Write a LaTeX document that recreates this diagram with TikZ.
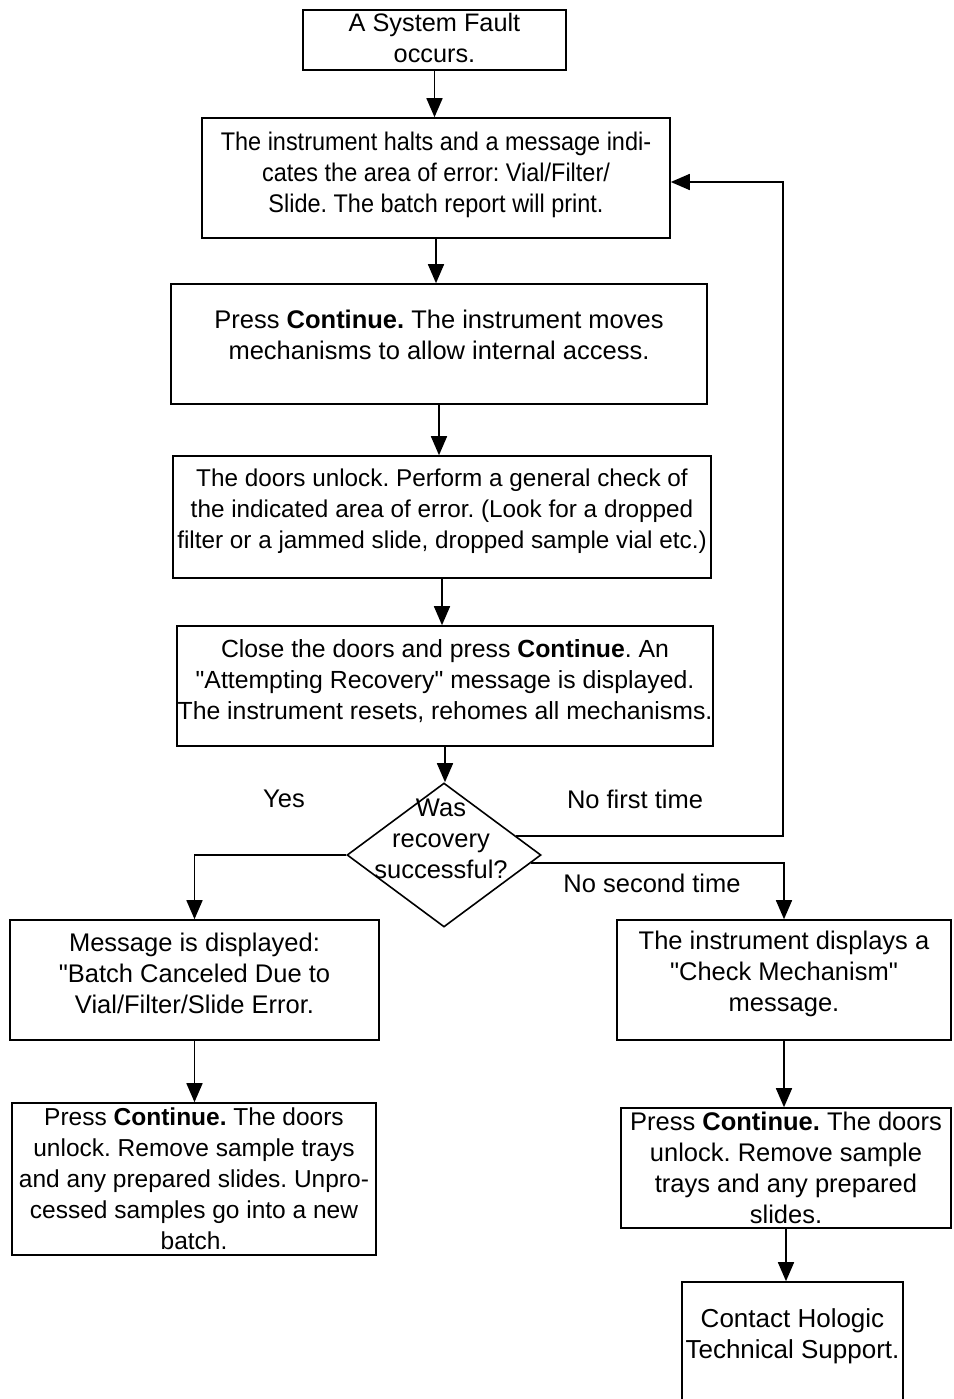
\documentclass[tikz,border=0pt]{standalone}
\usepackage{fontspec}
\setmainfont{Liberation Sans}[Ligatures=TeXOff]
\newfontfamily\narrowfont{Liberation Sans}[Ligatures=TeXOff, FakeStretch=0.92]
\usetikzlibrary{shapes.geometric, positioning, arrows.meta, calc}
\frenchspacing

\begin{document}
\begin{tikzpicture}[
    x=1pt, y=-1pt,
    line width=1.6pt,
    fsize/.style={font=\fontsize{#1}{31}\selectfont},
    block/.style={rectangle, draw, inner sep=0pt, align=center, fsize=25.5},
    decision/.style={diamond, draw, inner sep=0pt, minimum width=194pt, minimum height=144pt},
    tag/.style={fsize=25.5, align=center},
    arrow/.style={-{Triangle[length=19pt, width=16pt]}}
]
    \useasboundingbox (0,0) rectangle (953,1399);
    \clip (0,0) rectangle (953,1399);

    % Main Column
    \node[block, fsize=25.3, text depth=5pt, minimum width=263pt, minimum height=60pt] (fault) at (434.5,40) {A System Fault\\occurs.};
    \node[block, font=\narrowfont\fontsize{25.5}{31}\selectfont, text depth=12pt, minimum width=468pt, minimum height=120pt] (halt) at (436,178) {The instrument halts and a message indi-\\cates the area of error: Vial/Filter/\\Slide. The batch report will print.};
    \node[block, text depth=19pt, minimum width=536pt, minimum height=120pt] (access) at (439,344) {Press \textbf{Continue.} The instrument moves\\mechanisms to allow internal access.};
    \node[block, fsize=24.3, text depth=17pt, minimum width=538pt, minimum height=122pt] (inspect) at (442,517) {The doors unlock. Perform a general check of\\the indicated area of error. (Look for a dropped\\filter or a jammed slide, dropped sample vial etc.)};
    \node[block, fsize=24.8, text depth=12pt, minimum width=536pt, minimum height=120pt] (recover) at (445,686) {Close the doors and press \textbf{Continue}. An\\"Attempting Recovery" message is displayed.\\The instrument resets, rehomes all mechanisms.};

    % Decision
    \node[decision] (dec) at (444,855) {};
    \node[tag] (question) at (441,839) {Was\\recovery\\successful?};
    \node[tag] (yes) at (284,799) {Yes};
    \node[tag] (nofirst) at (635,799) {No first time};
    \node[tag] (nosecond) at (652,883) {No second time};

    % Left Branch
    \node[block, text depth=13pt, minimum width=369pt, minimum height=120pt] (canceled) at (194.5,980) {Message is displayed:\\"Batch Canceled Due to\\Vial/Filter/Slide Error.};
    \node[block, fsize=24.5, minimum width=364pt, minimum height=152pt] (unloadL) at (194,1179) {Press \textbf{Continue.} The doors\\unlock. Remove sample trays\\and any prepared slides. Unpro-\\cessed samples go into a new\\batch.};

    % Right Branch
    \node[block, text depth=17pt, minimum width=334pt, minimum height=120pt] (mechanism) at (784,980) {The instrument displays a\\"Check Mechanism"\\message.};
    \node[block, minimum width=330pt, minimum height=120pt] (unloadR) at (786,1168) {Press \textbf{Continue.} The doors\\unlock. Remove sample\\trays and any prepared\\slides.};
    \node[block, fsize=26, text depth=16pt, minimum width=221pt, minimum height=120pt] (support) at (792.5,1342) {Contact Hologic\\Technical Support.};

    % Connection Lines
    \draw[arrow] (fault.south) -- (fault.south |- halt.north);
    \draw[arrow] (halt.south) -- (halt.south |- access.north);
    \draw[arrow] (access.south) -- (access.south |- inspect.north);
    \draw[arrow] (inspect.south) -- (inspect.south |- recover.north);
    \draw[arrow] (recover.south) -- (recover.south |- dec.north);

    \coordinate (loop) at (783,182);
    \draw[arrow] ($(dec.north)!0.74!(dec.east)$) -| (loop) -- (loop -| halt.east);
    \draw[arrow] (dec.west) -| (canceled.north);
    \draw[arrow] ($(dec.east)!0.11!(dec.south)$) -| (mechanism.north);

    \draw[arrow] (canceled.south) -- (canceled.south |- unloadL.north);
    \draw[arrow] (mechanism.south) -- (mechanism.south |- unloadR.north);
    \draw[arrow] (unloadR.south) -- (unloadR.south |- support.north);
\end{tikzpicture}
\end{document}
